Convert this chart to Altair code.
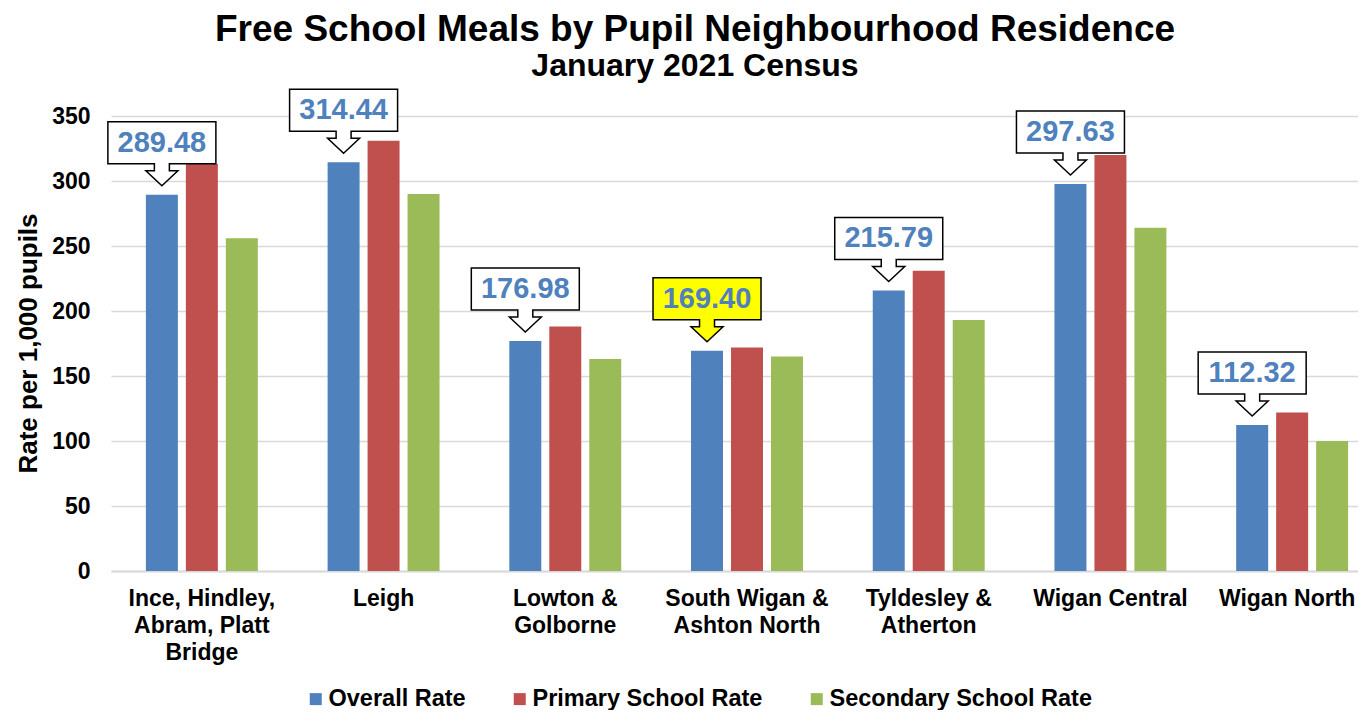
import altair as alt
import pandas as pd

# ---- data ----
categories = [
    "Ince, Hindley, Abram, Platt Bridge",
    "Leigh",
    "Lowton & Golborne",
    "South Wigan & Ashton North",
    "Tyldesley & Atherton",
    "Wigan Central",
    "Wigan North",
]
label_lines = [
    ["Ince, Hindley,", "Abram, Platt", "Bridge"],
    ["Leigh"],
    ["Lowton &", "Golborne"],
    ["South Wigan &", "Ashton North"],
    ["Tyldesley &", "Atherton"],
    ["Wigan Central"],
    ["Wigan North"],
]
series = ["Overall Rate", "Primary School Rate", "Secondary School Rate"]
overall = [289.48, 314.44, 176.98, 169.40, 215.79, 297.63, 112.32]
primary = [313, 331, 188, 172, 231, 320, 122]
secondary = [256, 290, 163, 165, 193, 264, 100]
highlighted = "South Wigan & Ashton North"

title_text = "Free School Meals by Pupil Neighbourhood Residence"
subtitle_text = "January 2021 Census"
y_title = "Rate per 1,000 pupils"

colors = ["#4F81BD", "#C0504D", "#9BBB59"]
FONT = "Liberation Sans"

# ---- tables ----
rows = []
for i, c in enumerate(categories):
    for s, vals in zip(series, [overall, primary, secondary]):
        rows.append({"category": c, "series": s, "value": vals[i]})
bars_df = pd.DataFrame(rows)

call_df = pd.DataFrame({
    "category": categories,
    "series": [series[0]] * len(categories),
    "value": overall,
    "box": ["#FFFF00" if c == highlighted else "white" for c in categories],
})

def js_str(s):
    return "'" + s.replace("'", "\\'") + "'"

label_map = "{" + ",".join(
    js_str(c) + ":[" + ",".join(js_str(l) for l in lines) + "]"
    for c, lines in zip(categories, label_lines)
) + "}"

x_enc = alt.X(
    "category:N",
    sort=categories,
    scale=alt.Scale(range=[0, 1272], paddingInner=0.384, paddingOuter=0.192),
    axis=alt.Axis(
        title=None,
        labelAngle=0,
        labelExpr=label_map + "[datum.label]",
        labelFont=FONT,
        labelFontSize=23,
        labelFontWeight="bold",
        labelColor="black",
        labelLineHeight=27,
        labelPadding=16,
        labelLimit=400,
        labelOffset={"condition": {"test": "datum.value === " + js_str(categories[-1]), "value": -5}, "value": 0},
        ticks=False,
        domainColor="#D9D9D9",
        domainWidth=2,
        grid=False,
    ),
)
xoff = alt.XOffset(
    "series:N",
    sort=series,
    scale=alt.Scale(domain=series, paddingInner=0.2, paddingOuter=0),
)
y_enc = alt.Y(
    "value:Q",
    scale=alt.Scale(domain=[0, 350], nice=False),
    axis=alt.Axis(
        values=[0, 50, 100, 150, 200, 250, 300, 350],
        title=y_title,
        titleFont=FONT,
        titleFontSize=26,
        titleFontWeight="bold",
        titleColor="black",
        titleAngle=-90,
        titleX=-83,
        titleY=227,
        titleAlign="center",
        titleBaseline="middle",
        labelFont=FONT,
        labelFontSize=23,
        labelFontWeight="bold",
        labelColor="black",
        labelPadding=21,
        ticks=False,
        domain=False,
        gridColor="#D9D9D9",
        gridWidth=1.5,
    ),
)

bars = alt.Chart(bars_df).mark_bar().encode(
    x=x_enc,
    xOffset=xoff,
    y=y_enc,
    color=alt.Color(
        "series:N",
        sort=series,
        scale=alt.Scale(domain=series, range=colors),
        legend=alt.Legend(
            title=None,
            orient="none",
            legendX=193,
            legendY=571,
            direction="horizontal",
            symbolType="square",
            symbolSize=144,
            symbolStrokeWidth=0,
            labelFont=FONT,
            labelFontSize=23.5,
            labelFontWeight="bold",
            labelColor="black",
            labelOffset=1,
            labelLimit=500,
            columnPadding=42,
        ),
    ),
)

callout_path = ("M-54,-73 L54,-73 L54,-31 L7.5,-31 L7.5,-24 L16,-24 L0,-9 "
                "L-16,-24 L-7.5,-24 L-7.5,-31 L-54,-31 Z")

boxes = alt.Chart(call_df).mark_point(
    shape=callout_path, size=4, filled=True, stroke="black", strokeWidth=1.5, opacity=1
).encode(
    x=alt.X("category:N", sort=categories),
    xOffset=alt.XOffset("series:N", sort=series),
    y=alt.Y("value:Q"),
    fill=alt.Fill("box:N", scale=None),
)

labels = alt.Chart(call_df).mark_text(
    dy=-52, font=FONT, fontSize=29, fontWeight="bold", color="#4F81BD", baseline="middle"
).encode(
    x=alt.X("category:N", sort=categories),
    xOffset=alt.XOffset("series:N", sort=series),
    y=alt.Y("value:Q"),
    text=alt.Text("value:Q", format=".2f"),
)

title_mark = alt.Chart(alt.Data(values=[{"t": 1}])).mark_text(
    font=FONT, fontSize=37, fontWeight="bold", color="black", align="center", baseline="alphabetic"
).encode(x=alt.value(584), y=alt.value(-75), text=alt.value(title_text))

subtitle_mark = alt.Chart(alt.Data(values=[{"t": 1}])).mark_text(
    font=FONT, fontSize=32, fontWeight="bold", color="black", align="center", baseline="alphabetic"
).encode(x=alt.value(584), y=alt.value(-40), text=alt.value(subtitle_text))

chart = alt.layer(bars, boxes, labels, title_mark, subtitle_mark).properties(
    width=1247,
    height=455,
    padding={"left": 103, "top": 108, "right": 0, "bottom": 139},
    autosize=alt.AutoSizeParams(type="none"),
).configure_view(stroke="transparent")

chart.save("out.html", embed_options={"renderer": "svg", "actions": False})
